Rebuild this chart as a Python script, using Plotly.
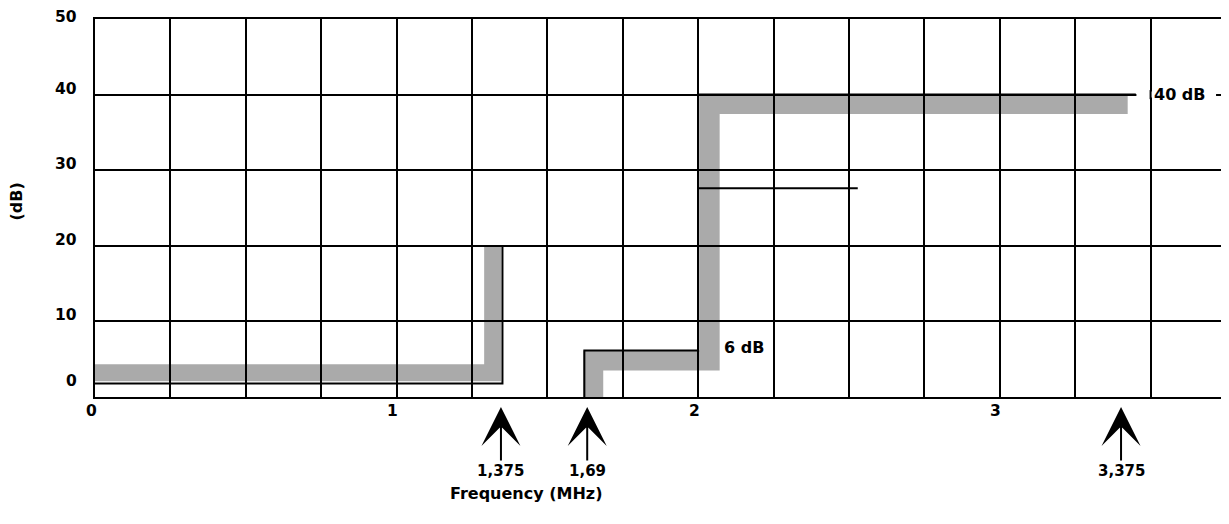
import plotly.graph_objects as go

# ---- data ----
mask1_x = [0, 1.351, 1.351]
mask1_y = [1.77, 1.77, 20]
mask2_x = [1.6225, 1.6225, 2.0, 2.0, 3.451]
mask2_y = [0, 6.16, 6.16, 40, 40]
level_x = [2.0, 2.529]
level_y = [27.6, 27.6]
band1_x = [0, 1.3185, 1.3185]
band1_y = [3.21, 3.21, 20]
band2_x = [1.652, 1.652, 2.038, 2.038, 3.424]
band2_y = [0, 4.84, 4.84, 38.76, 38.76]
marker_freqs = [1.346, 1.632, 3.402]
marker_labels = ["1,375", "1,69", "3,375"]
xtick_vals = [0, 1, 2, 3]
xtick_text = ["0", "1", "2", "3"]
ytick_vals = [0, 10, 20, 30, 40, 50]
ytick_text = ["0", "10", "20", "30", "40", "50"]
label_6db = ("6 dB", 2.151, 6.55)
label_40db = ("40 dB", 3.595, 40)
x_title = "Frequency (MHz)"
y_title = "(dB)"

FONT = "DejaVu Sans"
GRAY = "#aaaaaa"

fig = go.Figure()

for xs, ys in [(mask1_x, mask1_y), (mask2_x, mask2_y), (level_x, level_y)]:
    fig.add_trace(go.Scatter(x=xs, y=ys, mode="lines",
                             line=dict(color="black", width=2),
                             hoverinfo="skip", cliponaxis=False))

def path_of(xs, ys):
    return "M" + " L".join(f"{x},{y}" for x, y in zip(xs, ys))

shapes = [
    dict(type="path", xref="x", yref="y", path=path_of(band1_x, band1_y),
         line=dict(color=GRAY, width=17), layer="below"),
    dict(type="path", xref="x", yref="y", path=path_of(band2_x, band2_y),
         line=dict(color=GRAY, width=20), layer="below"),
    # gap in the 40 dB gridline around the label
    dict(type="rect", xref="x", yref="y", x0=3.453, x1=3.717, y0=39.6, y1=40.4,
         fillcolor="white", line=dict(width=0), layer="above"),
    dict(type="line", xref="x", yref="y", x0=3.5, x1=3.5, y0=39.4, y1=40.6,
         line=dict(color="black", width=2), layer="above"),
]

ann = []
bold = lambda s: dict(family=FONT, size=s, color="black", weight="bold")

for v, t in zip(xtick_vals, xtick_text):
    ann.append(dict(x=v, y=0, xref="x", yref="paper", text=t, showarrow=False,
                    xanchor="center", yanchor="middle", xshift=-4, yshift=-14,
                    font=bold(15.5)))
ymax = max(ytick_vals)
for v, t in zip(ytick_vals, ytick_text):
    dy = 2 if v == ymax else (16 if v == 0 else 6)
    ann.append(dict(x=0, y=v, xref="paper", yref="y", text=t, showarrow=False,
                    xanchor="right", yanchor="middle", xshift=-16, yshift=dy,
                    font=bold(15.5)))

for f, t in zip(marker_freqs, marker_labels):
    ann.append(dict(x=f, y=-0.0265, xref="x", yref="paper", text=t, showarrow=True,
                    arrowhead=3, arrowsize=3.25, arrowwidth=2, arrowcolor="black",
                    ax=0, ay=64, font=bold(15)))

ann.append(dict(x=label_6db[1], y=label_6db[2], xref="x", yref="y", text=label_6db[0],
                showarrow=False, xanchor="center", yanchor="middle", font=bold(16)))
ann.append(dict(x=label_40db[1], y=label_40db[2], xref="x", yref="y", text=label_40db[0],
                showarrow=False, xanchor="center", yanchor="middle", font=bold(16)))

ann.append(dict(x=1.428, y=-0.254, xref="x", yref="paper", text=x_title,
                showarrow=False, xanchor="center", yanchor="middle", font=bold(16)))
ann.append(dict(x=-0.0691, y=0.5167, xref="paper", yref="paper", text=y_title,
                showarrow=False, xanchor="center", yanchor="middle", textangle=-90,
                font=bold(16)))

fig.update_layout(
    width=1221, height=516, autosize=False,
    margin=dict(l=87, r=1, t=11, b=127, pad=0),
    paper_bgcolor="white", plot_bgcolor="white",
    showlegend=False,
    shapes=shapes, annotations=ann,
    xaxis=dict(range=[0, 3.75], tick0=0, dtick=0.25, showgrid=True,
               gridcolor="black", gridwidth=2, showline=True, linecolor="black",
               linewidth=2, mirror=True, showticklabels=False, zeroline=False,
               ticks="", fixedrange=True),
    yaxis=dict(range=[0, 50], tick0=0, dtick=10, showgrid=True,
               gridcolor="black", gridwidth=2, showline=True, linecolor="black",
               linewidth=2, mirror=True, showticklabels=False, zeroline=False,
               ticks="", fixedrange=True),
)

fig.write_html("out.html")
